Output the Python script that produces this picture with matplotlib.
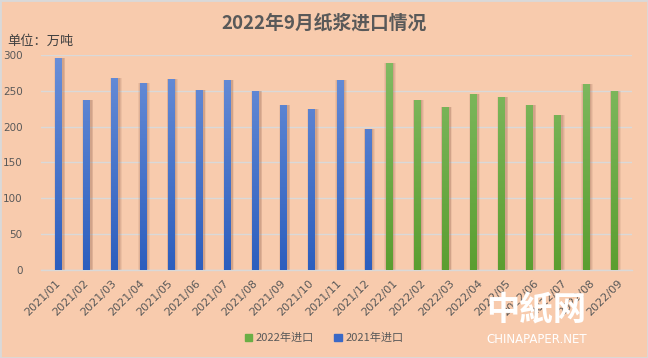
import numpy as np
import matplotlib
matplotlib.use("Agg")
import matplotlib.pyplot as plt
from matplotlib.patches import Rectangle
from matplotlib.colors import LinearSegmentedColormap

plt.rcParams['font.family'] = ['Noto Sans CJK SC', 'DejaVu Sans']

categories = ['2021/01', '2021/02', '2021/03', '2021/04', '2021/05', '2021/06',
              '2021/07', '2021/08', '2021/09', '2021/10', '2021/11', '2021/12',
              '2022/01', '2022/02', '2022/03', '2022/04', '2022/05', '2022/06',
              '2022/07', '2022/08', '2022/09']
imports_2021 = [296, 237, 268, 261, 266, 251, 265, 250, 230, 225, 265, 197]
imports_2022 = [289, 237, 227, 245, 241, 230, 216, 259, 250]
yticks = [0, 50, 100, 150, 200, 250, 300]

title = '2022年9月纸浆进口情况'
unit_label = '单位：万吨'
name_2022 = '2022年进口'
name_2021 = '2021年进口'

BG = '#F8CBAD'
TXT = '#595959'

n = len(categories)
v2021 = np.array(imports_2021 + [np.nan] * (n - len(imports_2021)), dtype=float)
v2022 = np.array([np.nan] * (n - len(imports_2022)) + imports_2022, dtype=float)
x = np.arange(n)

fig = plt.figure(figsize=(6.48, 3.58), dpi=100, facecolor=BG)
ax = fig.add_axes([0.063, 0.2458, 0.912, 0.6006])
ax.set_facecolor(BG)

w = 0.24
off = 0.13

def grad_bars(xpos, vals, top, bottom, label):
    # soft shadow, layered
    for k, a in [(0.16, 0.10), (0.11, 0.13), (0.06, 0.16)]:
        ax.bar(xpos + 0.04, vals, width=w + k, color='#8a5a48', alpha=a,
               zorder=2, linewidth=0)
    bars = ax.bar(xpos, vals, width=w, color=bottom, zorder=3, linewidth=0, label=label)
    cmap = LinearSegmentedColormap.from_list('g', [bottom, top])
    grad = np.linspace(0, 1, 256).reshape(-1, 1)
    for b in bars:
        h = b.get_height()
        if not np.isfinite(h) or h <= 0:
            continue
        x0 = b.get_x()
        im = ax.imshow(grad * (h / 300.0), extent=[x0, x0 + b.get_width(), 0, h],
                       origin='lower', aspect='auto', cmap=cmap, vmin=0, vmax=1,
                       zorder=4, interpolation='bilinear')
        im.set_clip_path(b)
    return bars

grad_bars(x - off, v2022, '#82BB64', '#5B9E30', name_2022)
grad_bars(x + off, v2021, '#6A8FD8', '#2C5EBE', name_2021)

ax.set_xlim(-0.5, n - 0.5)
ax.set_ylim(0, 300)
ax.set_yticks(yticks)
ax.set_xticks(x)
ax.set_xticklabels(categories, rotation=45, ha='right', rotation_mode='anchor',
                   fontsize=8, color=TXT, family='DejaVu Sans')
ax.tick_params(axis='y', length=0, pad=13, labelsize=7.5, labelcolor=TXT)
ax.tick_params(axis='x', length=0, pad=6)
for lbl in ax.get_yticklabels():
    lbl.set_family('DejaVu Sans')
ax.grid(axis='y', color='#D9D9D9', linewidth=1.0, zorder=0)
ax.set_axisbelow(True)
for s in ['top', 'right', 'left']:
    ax.spines[s].set_visible(False)
ax.spines['bottom'].set_color('#D9D9D9')
ax.spines['bottom'].set_linewidth(1.0)

fig.text(0.5, 0.935, title, ha='center', va='center', fontsize=13.5,
         fontweight='bold', color=TXT)
fig.text(0.012, 0.885, unit_label, ha='left', va='center', fontsize=9.5, color='#404040')

handles = [Rectangle((0, 0), 1, 1, color='#6AAE45'), Rectangle((0, 0), 1, 1, color='#3A68C6')]
leg = fig.legend(handles, [name_2022, name_2021], loc='center', bbox_to_anchor=(0.50, 0.055),
                 ncol=2, frameon=False, fontsize=8, handlelength=0.7, handleheight=0.7,
                 handletextpad=0.3, columnspacing=1.8)
for t in leg.get_texts():
    t.set_color(TXT)

# watermark
fig.text(0.828, 0.13, '中紙网', ha='center', va='center', fontsize=24,
         fontweight='bold', color='white')
fig.text(0.828, 0.053, 'CHINAPAPER.NET', ha='center', va='center', fontsize=8.5,
         color='white', family='DejaVu Sans')

fig.patches.append(Rectangle((0, 0), 1, 1, transform=fig.transFigure, fill=False,
                             edgecolor='#D9D9D9', linewidth=2, zorder=10))

fig.savefig('out.png', dpi=100, facecolor=BG)
